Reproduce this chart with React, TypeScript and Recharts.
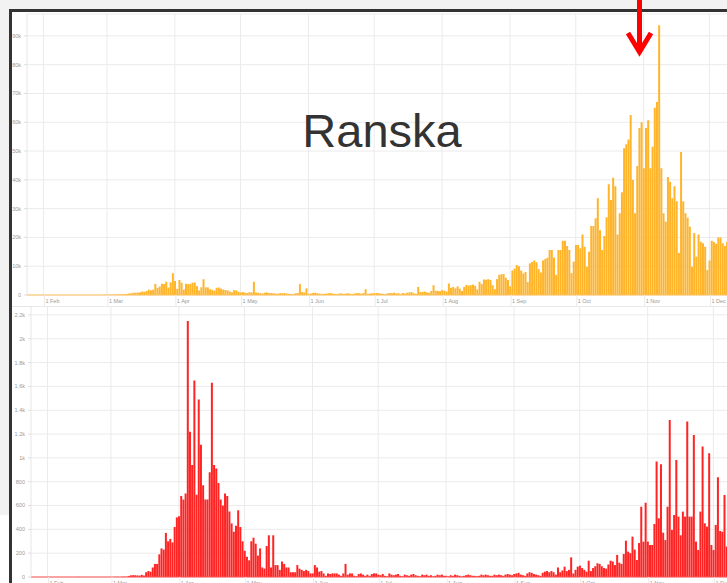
import React from "react";
import { BarChart, Bar, XAxis, YAxis, CartesianGrid, ReferenceLine } from "recharts";

// ---- categories: month names and the first day shown in each month ----
const monthNames = ["Jan", "Feb", "Mar", "Apr", "May", "Jun", "Jul", "Aug", "Sep", "Oct", "Nov", "Dec"];
const firstDays = [25, 1, 1, 1, 1, 1, 1, 1, 1, 1, 1, 1];
const monthTicks = ["1 Feb", "1 Mar", "1 Apr", "1 May", "1 Jun", "1 Jul", "1 Aug", "1 Sep", "1 Oct", "1 Nov", "1 Dec"];

// ---- daily new cases (top chart) ----
const casesJan = [3, 0, 0, 1, 0, 1, 0];
const casesFeb = [0, 0, 0, 0, 0, 0, 0, 5, 0, 0, 0, 0, 0, 0, 0, 0, 0, 0, 0, 0, 0, 0, 0, 0, 2, 4, 20, 19, 43];
const casesMar = [30, 60, 90, 80, 140, 190, 190, 160, 280, 370, 500, 600, 800, 790, 840, 920, 1210, 1100, 1400, 1860, 1620, 1850, 3840, 2450, 2930, 3920, 3810, 4610, 2600, 4380, 7580];
const casesApr = [4860, 2120, 5230, 4270, 1870, 3910, 3780, 3880, 4290, 4340, 3110, 1610, 2670, 5500, 2630, 2640, 2000, 1800, 1500, 2500, 2600, 2200, 1900, 1700, 1600, 1200, 900, 1700, 1600, 1100];
const casesMay = [900, 1000, 800, 700, 1000, 900, 4600, 900, 800, 600, 500, 800, 900, 700, 700, 600, 500, 400, 700, 600, 700, 500, 400, 300, 300, 600, 700, 3800, 1000, 900, 2300];
const casesJun = [400, 500, 700, 800, 600, 500, 300, 400, 500, 600, 700, 500, 400, 300, 500, 600, 400, 500, 600, 400, 300, 500, 700, 600, 500, 700, 2000, 400, 500, 600];
const casesJul = [600, 700, 650, 500, 400, 300, 600, 700, 650, 800, 550, 600, 250, 700, 500, 800, 900, 1000, 600, 400, 2800, 1000, 1100, 1200, 900, 800, 1400, 3400, 1500, 1400, 1300];
const casesAug = [1700, 1500, 1200, 4000, 2500, 2800, 2300, 3000, 2200, 1400, 2800, 3500, 3300, 3400, 3600, 3200, 1900, 4600, 3800, 5400, 5300, 5500, 5200, 3400, 2000, 5500, 7000, 7200, 7300, 6000, 5200];
const casesSep = [3000, 8500, 9200, 10400, 10000, 8500, 7500, 8000, 4500, 11000, 11500, 12000, 11400, 9000, 7800, 12000, 12500, 13000, 15600, 15600, 13000, 7000, 15600, 15600, 18800, 18800, 17000, 15600, 7600, 11600];
const casesOct = [17400, 17400, 16200, 21000, 16800, 9800, 15000, 24000, 24000, 26700, 33600, 22500, 15600, 20500, 27000, 38500, 33000, 40700, 37800, 21000, 28400, 35700, 51000, 52400, 54000, 62500, 39900, 28400, 44800, 58000, 60000];
const casesNov = [44000, 58000, 60700, 44000, 51500, 65000, 67000, 93700, 44000, 28400, 25400, 41000, 39300, 33600, 37800, 32600, 14600, 49700, 32600, 28400, 26800, 23700, 9800, 21500, 13300, 21000, 18500, 18000, 16800, 8700];
const casesDec = [12000, 18800, 18400, 17800, 20000, 20000, 18000, 17000, 18500];

// ---- daily deaths (bottom chart) ----
const deathsJan = [0, 0, 0, 0, 0, 0, 0];
const deathsFeb = [0, 0, 0, 0, 0, 0, 0, 0, 0, 0, 0, 0, 0, 0, 1, 0, 0, 0, 0, 0, 0, 0, 0, 0, 0, 0, 0, 0, 0];
const deathsMar = [0, 0, 1, 1, 0, 2, 3, 2, 9, 14, 15, 15, 13, 12, 18, 12, 40, 50, 45, 80, 110, 110, 190, 240, 230, 370, 300, 320, 290, 420, 500];
const deathsApr = [510, 680, 650, 700, 2150, 1220, 940, 1650, 690, 1490, 1110, 770, 650, 650, 880, 1630, 940, 910, 790, 650, 600, 700, 680, 550, 450, 380, 430, 560, 420, 300];
const deathsMay = [220, 170, 140, 300, 330, 280, 180, 240, 80, 70, 260, 350, 80, 350, 100, 100, 60, 130, 110, 80, 80, 40, 40, 40, 100, 70, 60, 50, 60, 50, 30];
const deathsJun = [30, 100, 80, 45, 50, 30, 10, 30, 25, 30, 30, 30, 20, 10, 30, 110, 20, 30, 30, 10, 5, 25, 30, 20, 10, 20, 10, 25, 30, 30];
const deathsJul = [20, 15, 25, 10, 5, 30, 20, 15, 20, 25, 10, 5, 20, 15, 10, 20, 25, 15, 10, 5, 20, 15, 20, 10, 15, 5, 10, 20, 15, 20, 10];
const deathsAug = [10, 5, 15, 10, 20, 15, 10, 5, 10, 15, 20, 15, 10, 10, 5, 10, 20, 15, 20, 15, 10, 10, 20, 15, 20, 15, 10, 20, 25, 20, 15];
const deathsSep = [25, 30, 35, 20, 15, 10, 30, 40, 35, 25, 20, 15, 10, 35, 45, 50, 40, 50, 40, 20, 80, 40, 55, 87, 50, 60, 165, 30, 60, 87];
const deathsOct = [95, 75, 60, 45, 137, 50, 75, 90, 115, 110, 90, 75, 70, 105, 137, 130, 100, 185, 120, 110, 193, 305, 213, 200, 339, 230, 143, 285, 590, 297, 624];
const deathsNov = [297, 269, 269, 445, 969, 493, 947, 372, 310, 590, 1319, 395, 521, 983, 507, 350, 549, 507, 1305, 507, 507, 1193, 297, 227, 549, 1095, 451, 423, 1039, 269];
const deathsDec = [227, 437, 837, 386, 380, 689, 255, 400, 300];

// ---- axis ticks ----
const caseTicks = [0, 10000, 20000, 30000, 40000, 50000, 60000, 70000, 80000, 90000];
const caseTickLabels = ["0", "10k", "20k", "30k", "40k", "50k", "60k", "70k", "80k", "90k"];
const deathTicks = [0, 200, 400, 600, 800, 1000, 1200, 1400, 1600, 1800, 2000, 2200];
const deathTickLabels = ["0", "200", "400", "600", "800", "1k", "1.2k", "1.4k", "1.6k", "1.8k", "2k", "2.2k"];

const title = "Ranska";

const casesByMonth = [casesJan, casesFeb, casesMar, casesApr, casesMay, casesJun, casesJul, casesAug, casesSep, casesOct, casesNov, casesDec];
const deathsByMonth = [deathsJan, deathsFeb, deathsMar, deathsApr, deathsMay, deathsJun, deathsJul, deathsAug, deathsSep, deathsOct, deathsNov, deathsDec];

const data = casesByMonth.flatMap((arr, m) =>
  arr.map((v, j) => ({
    date: `${firstDays[m] + j} ${monthNames[m]}`,
    cases: v,
    deaths: deathsByMonth[m][j],
  }))
);

const FONT = "'Liberation Sans', Arial, sans-serif";
const LABEL = "#9a9a9a";
const GRID = "#ebebeb";

const MonthTick = (props: any) => {
  const { x, y, payload } = props;
  const v = String(payload?.value ?? "");
  if (!monthTicks.includes(v)) return <g />;
  return (
    <g>
      <line x1={x + 1} x2={x + 1} y1={y} y2={y + 12} stroke={GRID} />
      <text x={x + 2} y={y + 8} fontSize={5.5} fill={LABEL} fontFamily={FONT}>
        {v}
      </text>
    </g>
  );
};

const fmt = (ticks: number[], labels: string[]) => (v: number) => {
  const k = ticks.indexOf(v);
  return k >= 0 ? labels[k] : "";
};

export default function App() {
  return (
    <div
      style={{
        position: "absolute",
        left: 0,
        top: 0,
        width: 727,
        height: 583,
        overflow: "hidden",
        background: "#ffffff",
        fontFamily: FONT,
      }}
    >
      {/* page frame */}
      <div style={{ position: "absolute", left: 0, top: 0, width: 727, height: 9, background: "#f2f2f2" }} />
      <div style={{ position: "absolute", left: 0, top: 0, width: 9, height: 515, background: "#f2f2f2" }} />

      {/* top chart: cases */}
      <div style={{ position: "absolute", left: 0, top: 0 }}>
        <BarChart
          width={728}
          height={310}
          data={data}
          margin={{ top: 14, right: 0, bottom: 0, left: 0 }}
          barCategoryGap="12%"
        >
          <CartesianGrid stroke={GRID} verticalValues={monthTicks} />
          <XAxis
            dataKey="date"
            interval={0}
            tickLine={false}
            axisLine={false}
            tickSize={0}
            tickMargin={0}
            height={15}
            tick={<MonthTick />}
          />
          <YAxis
            type="number"
            domain={[0, 97600]}
            ticks={caseTicks}
            allowDataOverflow
            width={27}
            tickSize={3}
            tickMargin={3}
            tickFormatter={fmt(caseTicks, caseTickLabels)}
            tick={{ fontSize: 5.5, fill: LABEL, fontFamily: FONT }}
            tickLine={{ stroke: "#dddddd" }}
            axisLine={{ stroke: "#e6e6e6" }}
          />
          <ReferenceLine y={0} stroke="#ffc05a" strokeWidth={1} />
          <Bar dataKey="cases" fill="#ffb42a" isAnimationActive={false} />
        </BarChart>
      </div>

      {/* separator */}
      <div style={{ position: "absolute", left: 12, top: 306, width: 715, height: 1, background: "#e6e6e6" }} />

      {/* bottom chart: deaths */}
      <div style={{ position: "absolute", left: 0, top: 306 }}>
        <BarChart
          width={732}
          height={286}
          data={data}
          margin={{ top: 0, right: 0, bottom: 0, left: 0 }}
          barCategoryGap="12%"
        >
          <CartesianGrid stroke={GRID} verticalValues={monthTicks} />
          <XAxis
            dataKey="date"
            interval={0}
            tickLine={false}
            axisLine={false}
            tickSize={0}
            tickMargin={0}
            height={15}
            tick={<MonthTick />}
          />
          <YAxis
            type="number"
            domain={[0, 2275]}
            ticks={deathTicks}
            allowDataOverflow
            width={31}
            tickSize={3}
            tickMargin={3}
            tickFormatter={fmt(deathTicks, deathTickLabels)}
            tick={{ fontSize: 5.5, fill: LABEL, fontFamily: FONT }}
            tickLine={{ stroke: "#dddddd" }}
            axisLine={{ stroke: "#e6e6e6" }}
          />
          <ReferenceLine y={0} stroke="#ff5050" strokeWidth={1} />
          <Bar dataKey="deaths" fill="#ff2424" isAnimationActive={false} />
        </BarChart>
      </div>

      {/* dark frame lines */}
      <div style={{ position: "absolute", left: 9, top: 9, width: 718, height: 3, background: "#333333" }} />
      <div style={{ position: "absolute", left: 9, top: 9, width: 3, height: 574, background: "#333333" }} />

      {/* title */}
      <div
        style={{
          position: "absolute",
          left: 282,
          top: 104,
          width: 200,
          textAlign: "center",
          fontSize: 47,
          color: "#333333",
          fontFamily: FONT,
          lineHeight: "54px",
        }}
      >
        {title}
      </div>

      {/* red arrow annotation */}
      <svg style={{ position: "absolute", left: 0, top: 0 }} width={727} height={583}>
        <line x1={639.5} y1={0} x2={639.5} y2={50} stroke="#ff0000" strokeWidth={5} />
        <polyline points="628,33 639.5,52 651,33" fill="none" stroke="#ff0000" strokeWidth={5} strokeLinejoin="miter" />
      </svg>
    </div>
  );
}
